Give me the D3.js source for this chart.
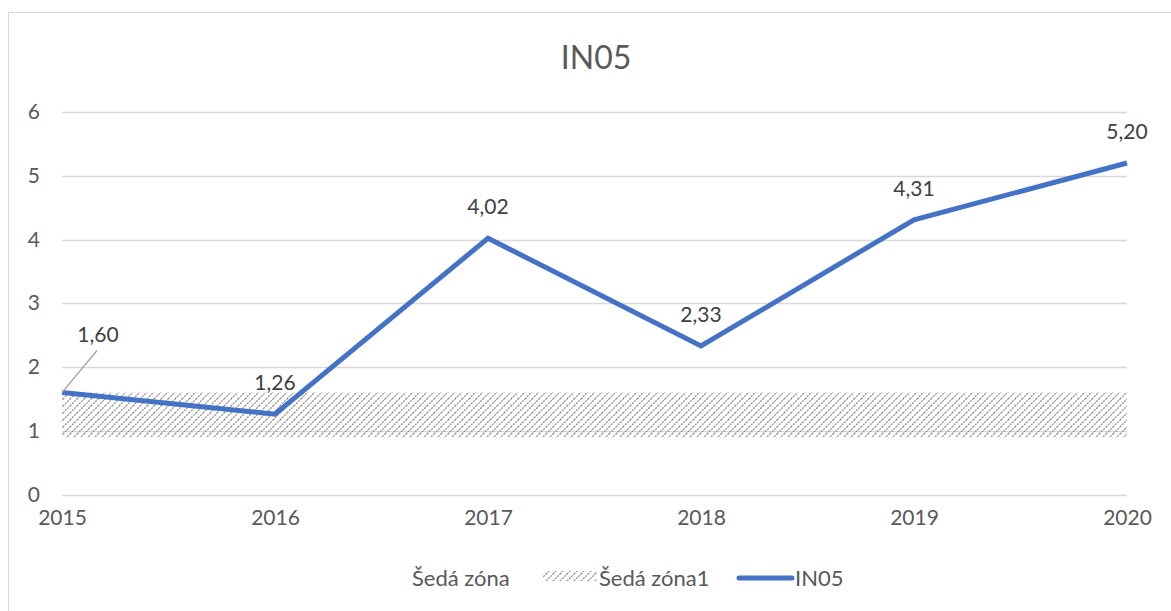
<!DOCTYPE html>
<html>
<head>
<meta charset="utf-8">
<script src="https://cdn.jsdelivr.net/npm/d3@7"></script>
<style>
  body { margin: 0; background: #fff; }
  svg { display: block; font-family: Lato, "Open Sans", sans-serif; }
</style>
</head>
<body>
<svg id="chart" width="1171" height="611"></svg>
<script>
// chart data
const years = ["2015", "2016", "2017", "2018", "2019", "2020"];
const in05 = [1.60, 1.26, 4.02, 2.33, 4.31, 5.20];
const sedaZona = [0.9, 0.9, 0.9, 0.9, 0.9, 0.9];      // invisible base of the band
const sedaZona1 = [0.7, 0.7, 0.7, 0.7, 0.7, 0.7];     // hatched band on top of it
const yTicks = [0, 1, 2, 3, 4, 5, 6];

const textColor = "#595959";
const gridColor = "#d9d9d9";
const blue = "#4472c4";

const svg = d3.select("#chart");

// outer chart border
svg.append("rect")
    .attr("x", 8.5).attr("y", 12.5)
    .attr("width", 1200).attr("height", 640)
    .attr("fill", "none")
    .attr("stroke", gridColor);

// hatch for the grey zone
const defs = svg.append("defs");
defs.append("pattern")
    .attr("id", "hatch")
    .attr("patternUnits", "userSpaceOnUse")
    .attr("width", 7).attr("height", 7)
    .append("path")
    .attr("d", "M0,7L7,0M-1,1L1,-1M6,8L8,6")
    .attr("stroke", "#8f8f8f")
    .attr("stroke-width", 1.3)
    .attr("stroke-dasharray", "2,1");

const x = d3.scalePoint().domain(years).range([62, 1127]);
const y = d3.scaleLinear().domain([0, 6]).range([494.5, 112]);

// title
svg.append("text")
    .attr("x", 596).attr("y", 69)
    .attr("text-anchor", "middle")
    .attr("fill", textColor)
    .style("font-size", "32px")
    .text("IN05");

// gridlines
svg.append("g")
    .selectAll("line")
    .data(yTicks)
    .join("line")
    .attr("x1", 62).attr("x2", 1127)
    .attr("y1", d => Math.round(y(d)) + 0.5)
    .attr("y2", d => Math.round(y(d)) + 0.5)
    .attr("stroke", gridColor)
    .attr("stroke-width", 1.3);

// y axis labels
const yAxis = svg.append("g")
    .attr("transform", "translate(62,0)")
    .call(d3.axisLeft(y).tickValues(yTicks).tickSize(0).tickPadding(22).tickFormat(d3.format("d")));
yAxis.select(".domain").remove();
yAxis.selectAll("text").attr("fill", textColor).style("font-size", "21px").style("font-family", "Lato, sans-serif");

// x axis labels
const xAxis = svg.append("g")
    .attr("transform", "translate(0,504)")
    .call(d3.axisBottom(x).tickSize(0).tickPadding(6));
xAxis.select(".domain").remove();
xAxis.selectAll("text").attr("fill", textColor).style("font-size", "21px").style("font-family", "Lato, sans-serif");

// stacked grey zone
const bandArea = d3.area()
    .x((d, i) => x(years[i]))
    .y0((d, i) => y(sedaZona[i]))
    .y1((d, i) => y(sedaZona[i] + sedaZona1[i]));
svg.append("path")
    .datum(sedaZona1)
    .attr("d", bandArea)
    .attr("fill", "url(#hatch)");

// IN05 line
const line = d3.line()
    .x((d, i) => x(years[i]))
    .y(d => y(d));
svg.append("path")
    .datum(in05)
    .attr("d", line)
    .attr("fill", "none")
    .attr("stroke", blue)
    .attr("stroke-width", 5)
    .attr("stroke-linejoin", "miter");

// data labels
const fmt = v => d3.format(".2f")(v).replace(".", ",");
const labels = in05.map((v, i) => {
    const px = x(years[i]), py = y(v);
    if (i === 0) return {v, x: px + 36, y: py - 51, leader: true, px, py};
    return {v, x: px, y: py - 24};
});
labels.filter(d => d.leader).forEach(d => {
    svg.append("line")
        .attr("x1", d.px).attr("y1", d.py)
        .attr("x2", d.x - 1).attr("y2", d.py - 42)
        .attr("stroke", "#a6a6a6")
        .attr("stroke-width", 1.3);
});
svg.append("g")
    .selectAll("text")
    .data(labels)
    .join("text")
    .attr("x", d => d.x)
    .attr("y", d => d.y)
    .attr("text-anchor", "middle")
    .attr("fill", "#404040")
    .style("font-size", "21px")
    .text(d => fmt(d.v));

// legend
const lg = svg.append("g").attr("fill", textColor).style("font-size", "22px");
lg.append("text").attr("x", 412).attr("y", 586).text("Šedá zóna");
lg.append("rect")
    .attr("x", 543).attr("y", 571)
    .attr("width", 54).attr("height", 10)
    .attr("fill", "url(#hatch)");
lg.append("text").attr("x", 599).attr("y", 586).text("Šedá zóna1");
lg.append("line")
    .attr("x1", 739).attr("x2", 792)
    .attr("y1", 578).attr("y2", 578)
    .attr("stroke", blue)
    .attr("stroke-width", 5)
    .attr("stroke-linecap", "round");
lg.append("text").attr("x", 795).attr("y", 586).text("IN05");
</script>
</body>
</html>
